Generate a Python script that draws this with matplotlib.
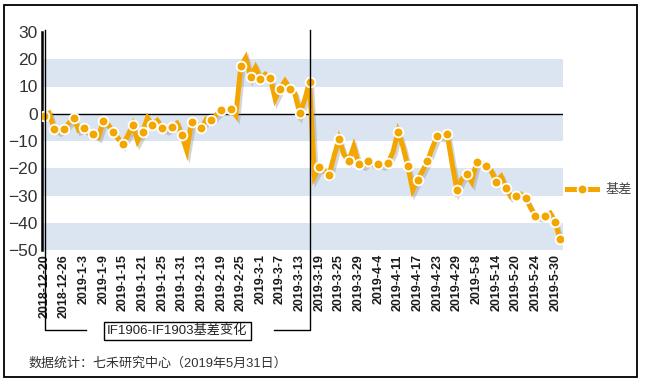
import matplotlib.pyplot as plt
import matplotlib.patheffects as pe
import matplotlib.transforms as mtransforms
import numpy as np

plt.rcParams['font.family'] = ['Liberation Sans', 'Noto Sans CJK SC']

# IF1906-IF1903 basis, one value per trading day (2018-12-20 .. 2019-5-31)
basis = [
    -0.7, 0.2, -5.6, -6.5, -5.6, -3.5, -1.6, -6.0, -5.2, -7.0,
    -7.4, -8.5, -2.8, -4.0, -6.6, -9.0, -11.2, -8.0, -4.0, -10.0,
    -6.6, -1.5, -4.0, -2.5, -5.2, -6.0, -4.7, -3.5, -7.9, -13.5,
    -2.9, -4.0, -5.1, -2.0, -2.4, -0.5, 1.3, 1.5, 1.9, -0.5,
    17.4, 20.5, 13.5, 17.0, 12.9, 14.5, 13.1, 5.5, 9.2, 12.0,
    9.2, 7.5, 0.2, 5.0, 11.8, -23.0, -19.6, -21.0, -22.3, -15.5,
    -9.2, -15.0, -17.2, -12.0, -18.4, -19.0, -17.5, -18.5, -18.4, -19.0,
    -17.9, -14.0, -6.6, -12.0, -19.2, -28.0, -24.2, -21.0, -17.4, -12.5,
    -8.1, -8.5, -7.3, -18.0, -27.9, -24.0, -22.0, -25.0, -17.8, -18.0,
    -19.0, -21.0, -24.9, -23.0, -27.3, -30.5, -30.2, -29.5, -30.9, -34.5,
    -37.5, -38.0, -37.5, -36.5, -39.8, -46.1,
]
tick_labels = [
    "2018-12-20", "2018-12-26", "2019-1-3", "2019-1-9", "2019-1-15", "2019-1-21",
    "2019-1-25", "2019-1-31", "2019-2-13", "2019-2-19", "2019-2-25", "2019-3-1",
    "2019-3-7", "2019-3-13", "2019-3-19", "2019-3-25", "2019-3-29", "2019-4-4",
    "2019-4-11", "2019-4-17", "2019-4-23", "2019-4-29", "2019-5-8", "2019-5-14",
    "2019-5-20", "2019-5-24", "2019-5-30",
]
split_day = 54  # 2019-3-13, switch point marked by the bracket
series_name = "基差"
box_title = "IF1906-IF1903基差变化"
footer = "数据统计：七禾研究中心（2019年5月31日）"

ORANGE = "#F4A600"
BAND = "#dbe5f1"

W, H = 645, 381
fig = plt.figure(figsize=(W / 100, H / 100), dpi=100)
ax = fig.add_axes([42 / W, 1 - 250 / H, (563 - 42) / W, (250 - 32) / H])

x = np.arange(len(basis))
for lo in (10, -10, -30, -50):
    ax.axhspan(lo, lo + 10, color=BAND, lw=0, zorder=0)
ax.axhline(0, color="black", lw=1, zorder=1)

marks = list(range(0, len(basis), 2)) + [len(basis) - 1]
ax.plot(x, basis, color=ORANGE, lw=3.6, solid_joinstyle="miter", zorder=3,
        path_effects=[pe.SimpleLineShadow(offset=(1.5, -2), shadow_color="#888888", alpha=0.35),
                      pe.Normal()])
ax.plot(x[marks], np.array(basis)[marks], ls="none", marker="o", ms=7, mfc=ORANGE,
        mec="white", mew=1.3, zorder=4)

ax.set_xlim(-0.47, len(basis) - 1 + 0.6)
ax.set_ylim(-50, 30)
ax.set_yticks(range(-50, 31, 10))
ax.set_xticks(x[::4][:len(tick_labels)])
ax.set_xticklabels(tick_labels, rotation=90, fontsize=9, fontweight="bold", color="#1a1a1a")
ax.tick_params(axis="x", length=0, pad=3)
ax.tick_params(axis="y", length=0, pad=3, labelsize=12.5, labelcolor="#333333")
for s in ("top", "right", "bottom"):
    ax.spines[s].set_visible(False)
ax.spines["left"].set_linewidth(1.8)

# bracket lines and box label
tr = mtransforms.blended_transform_factory(ax.transData, fig.transFigure)
yb = 1 - 330 / H
yt = 1 - 30 / H
ax.plot([0.15, 0.15, 8.5], [yt, yb, yb], color="black", lw=1, transform=tr, clip_on=False, zorder=5)
ax.plot([split_day, split_day, 46.8], [yt, yb, yb], color="black", lw=1, transform=tr, clip_on=False, zorder=5)
ax.text(27.1, 1 - 331 / H, box_title, transform=tr, ha="center", va="center", fontsize=9.5,
        color="#222222",
        bbox=dict(boxstyle="square,pad=0.25", fc="white", ec="black", lw=1))

# legend
handle, = ax.plot([], [], color=ORANGE, lw=3.6, marker="o", ms=7, mfc=ORANGE, mec="white", mew=1.3)
fig.legend([handle], [series_name], loc="center left", bbox_to_anchor=(567 / W, 1 - 190 / H),
           frameon=False, fontsize=9.5, handlelength=2.3, handletextpad=0.6, labelcolor="#444444",
           borderaxespad=0, borderpad=0)

fig.text(29 / W, 1 - 363 / H, footer, fontsize=9.4, color="#333333", va="center", ha="left")

fig.patches.append(plt.Rectangle((4 / W, 1 - 377 / H), 633 / W, 372 / H, transform=fig.transFigure,
                                 fill=False, ec="black", lw=1.3))

fig.savefig("out.png", dpi=100)
